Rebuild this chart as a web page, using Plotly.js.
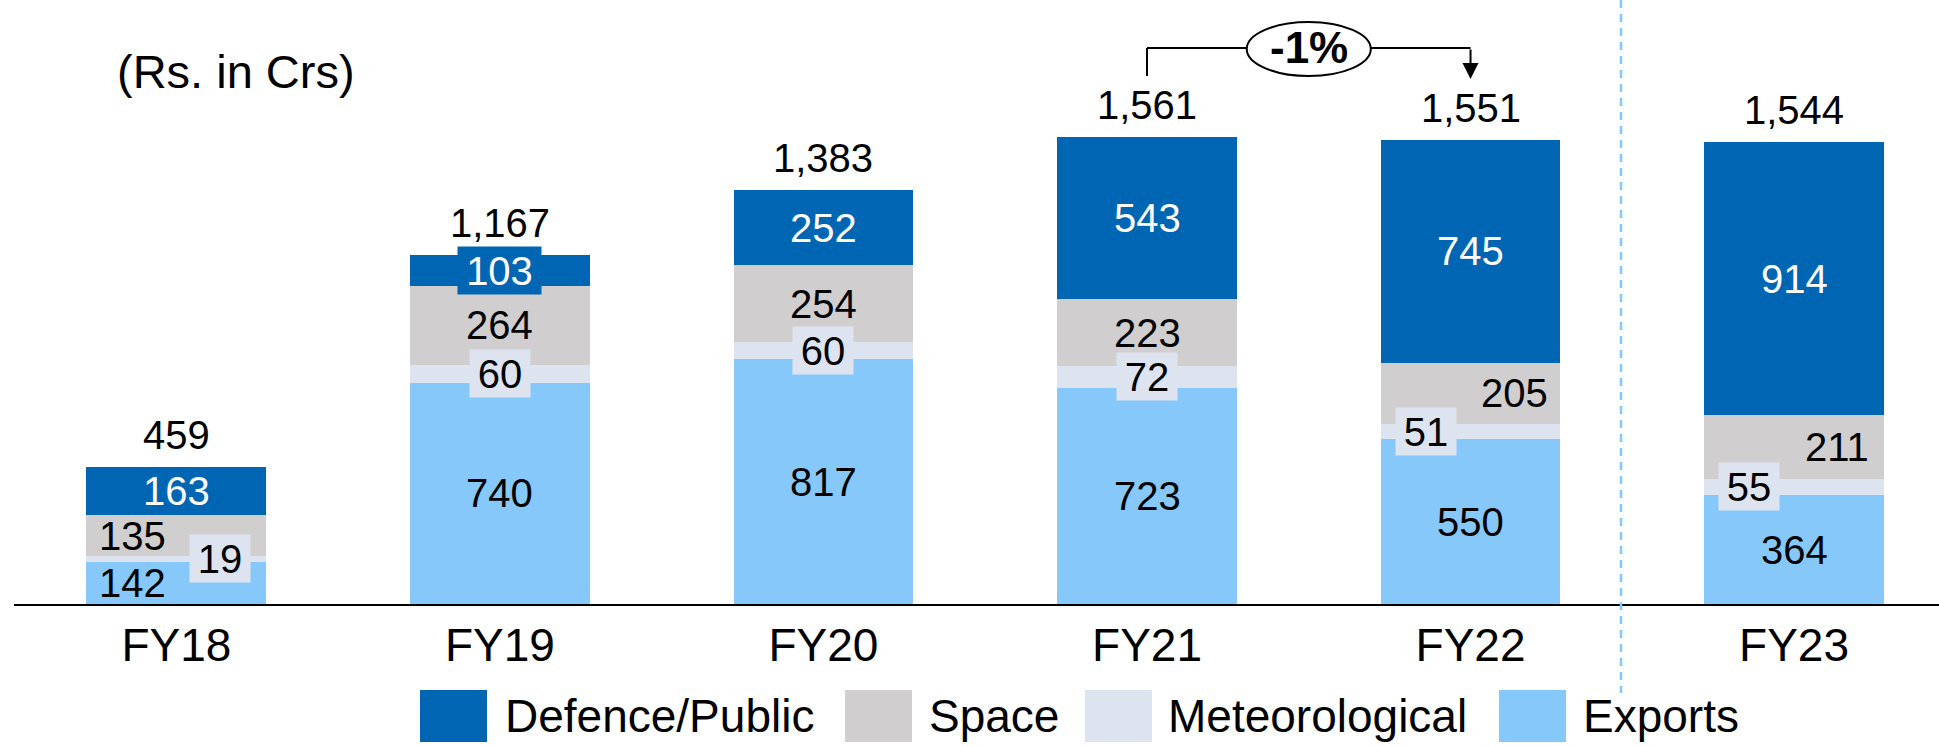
<!DOCTYPE html>
<html>
<head>
<meta charset="utf-8">
<script src="https://cdn.plot.ly/plotly-3.0.1.min.js"></script>
<style>
  html, body { margin: 0; padding: 0; background: #ffffff; }
  #chart { width: 1939px; height: 746px; }
</style>
</head>
<body>
<div id="chart"></div>
<script>
// ---------------- data ----------------
const categories = ['FY18', 'FY19', 'FY20', 'FY21', 'FY22', 'FY23'];
const exportsVals = [142, 740, 817, 723, 550, 364];
const meteorologicalVals = [19, 60, 60, 72, 51, 55];
const spaceVals = [135, 264, 254, 223, 205, 211];
const defenceVals = [163, 103, 252, 543, 745, 914];
const totals = [459, 1167, 1383, 1561, 1551, 1544];
const seriesNames = ['Exports', 'Meteorological', 'Space', 'Defence/Public'];
const legendOrder = ['Defence/Public', 'Space', 'Meteorological', 'Exports'];
const unitLabel = '(Rs. in Crs)';
const changeLabel = '-1%';
const changeFrom = 'FY21';
const changeTo = 'FY22';

// ---------------- styling ----------------
const FONT = 'Liberation Sans, Arial, Helvetica, sans-serif';
const colors = {
  'Exports': '#86c8f9',
  'Meteorological': '#dee4ef',
  'Space': '#d0cecf',
  'Defence/Public': '#0066b3'
};
const labelColor = {
  'Exports': '#000000',
  'Meteorological': '#000000',
  'Space': '#000000',
  'Defence/Public': '#ffffff'
};
// horizontal nudges (px) of segment labels, per series and bar
const labelShift = {
  'Exports': [-44, 0, 0, 0, 0, 0],
  'Meteorological': [44, 0, 0, 0, -45, -45],
  'Space': [-44, 0, 0, 0, 44, 43],
  'Defence/Public': [0, 0, 0, 0, 0, 0]
};
// labels drawn on a filled box
const boxedLabel = {
  'Meteorological': [true, true, true, true, true, true],
  'Defence/Public': [false, true, false, false, false, false]
};

const W = 1939, H = 746;
const M = { l: 14, r: 0, t: 0, b: 142 };
const plotH = H - M.t - M.b;
const plotW = W - M.l - M.r;
const px = p => (p - M.l) / plotW;          // pixel x -> paper x
const py = p => (plotH + M.t - p) / plotH;  // pixel y -> paper y

const valuesBySeries = {
  'Exports': exportsVals,
  'Meteorological': meteorologicalVals,
  'Space': spaceVals,
  'Defence/Public': defenceVals
};

const traces = seriesNames.map(name => ({
  type: 'bar',
  name: name,
  x: categories,
  y: valuesBySeries[name],
  marker: { color: colors[name], line: { width: 0 } },
  hoverinfo: 'skip',
  showlegend: false
}));

const annotations = [];
const shapes = [];

// segment labels
const cumulative = categories.map(() => 0);
seriesNames.forEach(name => {
  const vals = valuesBySeries[name];
  vals.forEach((v, i) => {
    const mid = cumulative[i] + v / 2;
    cumulative[i] += v;
    const boxed = boxedLabel[name] && boxedLabel[name][i];
    const ann = {
      x: i, y: mid, xref: 'x', yref: 'y',
      text: String(v),
      showarrow: false,
      xanchor: 'center', yanchor: 'middle',
      xshift: labelShift[name][i],
      font: { family: FONT, size: 40, color: labelColor[name] }
    };
    if (boxed) {
      ann.bgcolor = colors[name];
      ann.width = String(v).length >= 3 ? 83 : 60;
      ann.height = 47;
      ann.borderpad = 0;
    }
    annotations.push(ann);
  });
});

// totals above the bars
totals.forEach((t, i) => {
  annotations.push({
    x: i, y: t, xref: 'x', yref: 'y',
    text: t.toLocaleString('en-US'),
    showarrow: false, xanchor: 'center', yanchor: 'bottom', yshift: 8,
    font: { family: FONT, size: 40, color: '#000000' }
  });
});

// unit label
annotations.push({
  x: px(236), y: py(71), xref: 'paper', yref: 'paper',
  text: unitLabel, showarrow: false, xanchor: 'center', yanchor: 'middle',
  font: { family: FONT, size: 47, color: '#000000' }
});

// growth callout between FY21 and FY22
const iFrom = categories.indexOf(changeFrom);
const iTo = categories.indexOf(changeTo);
const iMid = (iFrom + iTo) / 2;
const ellHalf = 0.1917;
const lineStyle = { color: '#000000', width: 2 };
shapes.push({ type: 'line', xref: 'x', yref: 'paper', x0: iFrom, x1: iFrom, y0: py(76), y1: py(48), line: lineStyle });
shapes.push({ type: 'line', xref: 'x', yref: 'paper', x0: iFrom, x1: iMid - ellHalf, y0: py(48), y1: py(48), line: lineStyle });
shapes.push({ type: 'line', xref: 'x', yref: 'paper', x0: iMid + ellHalf, x1: iTo, y0: py(48), y1: py(48), line: lineStyle });
shapes.push({ type: 'circle', xref: 'x', yref: 'paper', x0: iMid - ellHalf, x1: iMid + ellHalf, y0: py(76), y1: py(22),
  line: lineStyle, fillcolor: '#ffffff' });
annotations.push({
  x: iTo, y: py(79), xref: 'x', yref: 'paper',
  ax: 0, ay: -31, axref: 'pixel', ayref: 'pixel',
  text: '', showarrow: true, arrowhead: 2, arrowsize: 1.6, arrowwidth: 2, arrowcolor: '#000000'
});
annotations.push({
  x: iMid, y: py(48), xref: 'x', yref: 'paper',
  text: '<b>' + changeLabel + '</b>', showarrow: false, xanchor: 'center', yanchor: 'middle',
  font: { family: FONT, size: 44, color: '#000000' }
});

// dashed separator before FY23
shapes.push({ type: 'line', xref: 'x', yref: 'paper', x0: 4.465, x1: 4.465, y0: py(0), y1: py(693),
  line: { color: '#86c8f9', width: 2.5, dash: '8px,6px' } });

// custom legend
const legendSwatchX = [420, 845, 1085, 1499];
const legendTextX = [503, 927, 1166, 1581];
legendOrder.forEach((name, k) => {
  shapes.push({ type: 'rect', xref: 'paper', yref: 'paper',
    x0: px(legendSwatchX[k]), x1: px(legendSwatchX[k] + 67), y0: py(690), y1: py(742),
    line: { width: 0 }, fillcolor: colors[name] });
  annotations.push({
    x: px(legendTextX[k]), y: py(716), xref: 'paper', yref: 'paper',
    text: name, showarrow: false, xanchor: 'left', yanchor: 'middle',
    font: { family: FONT, size: 46, color: '#000000' }
  });
});

const layout = {
  width: W, height: H,
  margin: { l: M.l, r: M.r, t: M.t, b: M.b, pad: 0 },
  paper_bgcolor: '#ffffff', plot_bgcolor: '#ffffff',
  barmode: 'stack', bargap: 0.444,
  showlegend: false,
  xaxis: {
    type: 'category', range: [-0.502, 5.448],
    showline: true, linecolor: '#000000', linewidth: 2,
    ticks: '', showgrid: false, zeroline: false,
    tickfont: { family: FONT, size: 46, color: '#000000' },
    fixedrange: true
  },
  yaxis: { range: [0, plotH / 0.2993], visible: false, showgrid: false, zeroline: false, fixedrange: true },
  annotations: annotations,
  shapes: shapes,
  font: { family: FONT }
};

Plotly.newPlot('chart', traces, layout, { staticPlot: true, displayModeBar: false });
</script>
</body>
</html>
